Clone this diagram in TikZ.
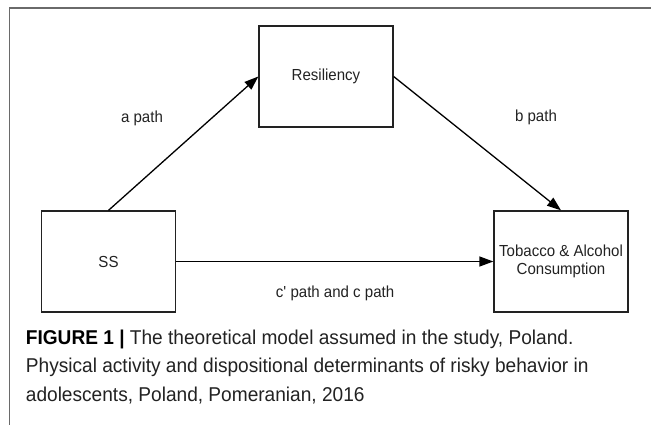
\documentclass[tikz,border=0pt]{standalone}
\usepackage{fontspec}
\setmainfont{Liberation Sans}
\newfontfamily\labfont[FakeStretch=0.94]{Liberation Sans}
\newfontfamily\capfont[FakeStretch=0.955]{Liberation Sans}
\usetikzlibrary{arrows.meta}
\definecolor{ink}{HTML}{222222}
\definecolor{framegray}{HTML}{6A6A6A}
\tikzset{
  box/.style={draw=ink, line width=1.3pt, minimum width=134pt, minimum height=101pt,
    inner sep=2pt, align=center, text=ink, font=\labfont\fontsize{16}{18}\selectfont},
  lbl/.style={text=ink, font=\labfont\fontsize{16}{18}\selectfont, inner sep=0pt},
  conn/.style={draw=black, line width=1.3pt, -{Triangle[length=14pt,width=10pt]}},
  capline/.style={anchor=base west, inner sep=0pt, text=ink, font=\capfont\fontsize{20}{28}\selectfont}
}
\begin{document}
\begin{tikzpicture}[x=1pt,y=-1pt]
\useasboundingbox (0,0) rectangle (651,425);
% frame
\coordinate (fbl) at (9.5,425);
\coordinate (ftl) at (9.5,8);
\coordinate (ftr) at (651,8);
\draw[framegray, line width=1.5pt] (fbl) -- (ftl) -- (ftr);
% boxes
\node[box] (res) at (326,76.5) {Resiliency};
\node[box] (ss) at (108.5,261.5) {SS};
\node[box] (tac) at (561,261.5) {Tobacco \& Alcohol\\Consumption};
% connectors
\draw[conn] (ss.north) -- (res.west);
\draw[conn] (res.east) -- (tac.north);
\draw[conn] (ss.east) -- (tac.west);
% labels
\node[lbl] (la) at (142,118) {a path};
\node[lbl] (lb) at (536,117) {b path};
\node[lbl] (lc) at (335,293) {c\textquotesingle{} path and c path};
% caption
\node[capline] (cap1) at (25.7,344) {\textbf{\color{black}FIGURE 1 |} The theoretical model assumed in the study, Poland.};
\node[capline] (cap2) at (25.7,372.5) {Physical activity and dispositional determinants of risky behavior in};
\node[capline] (cap3) at (25.7,401) {adolescents, Poland, Pomeranian, 2016};
\end{tikzpicture}
\end{document}
